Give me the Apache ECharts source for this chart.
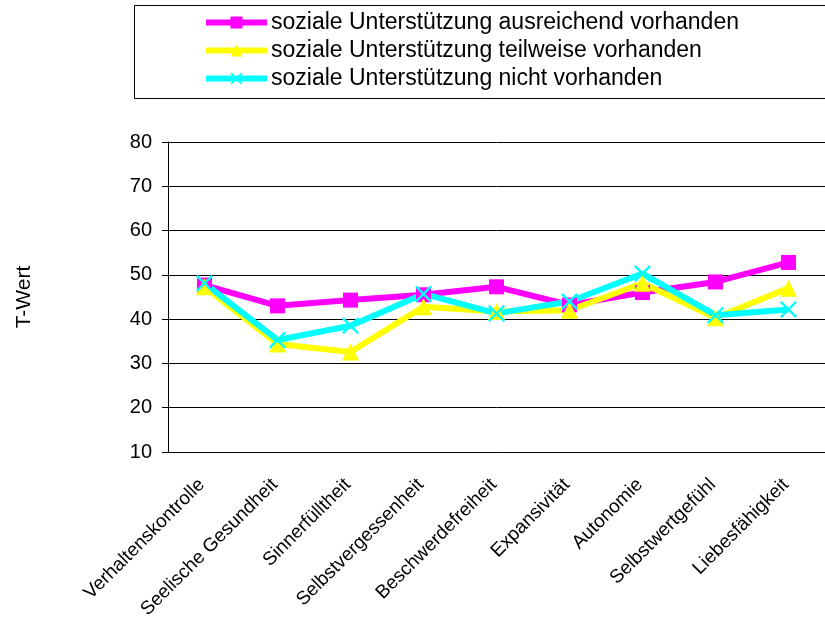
<!DOCTYPE html>
<html>
<head>
<meta charset="utf-8">
<script src="https://cdn.jsdelivr.net/npm/echarts@6/dist/echarts.min.js"></script>
<style>
  html, body { margin: 0; padding: 0; background: #fff; }
  #chart { width: 825px; height: 631px; }
</style>
</head>
<body>
<div id="chart"></div>
<script>
// Kategorien (x-Achse)
const categories = ['Verhaltenskontrolle', 'Seelische Gesundheit', 'Sinnerfülltheit', 'Selbstvergessenheit',
  'Beschwerdefreiheit', 'Expansivität', 'Autonomie', 'Selbstwertgefühl', 'Liebesfähigkeit'];

const seriesNames = ['soziale Unterstützung ausreichend vorhanden', 'soziale Unterstützung teilweise vorhanden',
  'soziale Unterstützung nicht vorhanden'];

// T-Werte je Gruppe
const ausreichend = [47.7, 43.0, 44.3, 45.5, 47.3, 43.2, 46.0, 48.4, 52.8];
const teilweise = [47.3, 34.4, 32.6, 42.8, 41.7, 42.0, 48.1, 40.3, 47.0];
const nicht = [48.1, 35.3, 38.5, 45.7, 41.3, 44.0, 50.3, 40.9, 42.2];

const yTicks = { min: 10, max: 80, interval: 10 };

const font = '"Liberation Sans", Arial, sans-serif';
const xMark = 'path://M0,1L1,0L10,9L9,10Z M9,0L10,1L1,10L0,9Z';

let myChart = echarts.init(document.getElementById('chart'), null, { renderer: 'canvas' });
myChart.setOption({
  animation: false,
  backgroundColor: '#fff',
  textStyle: { fontFamily: font },
  graphic: [
    {
      type: 'rect',
      shape: { x: 134.5, y: 5.5, width: 720, height: 93 },
      style: { fill: 'none', stroke: '#000', lineWidth: 1 },
      z: 0
    }
  ],
  legend: {
    orient: 'vertical',
    left: 203,
    top: 11,
    padding: 0,
    itemWidth: 61,
    itemHeight: 15,
    itemGap: 5,
    lineStyle: { width: 6 },
    textStyle: { fontSize: 23, color: '#000', fontFamily: font, padding: [0, 0, 0, -1] },
    data: seriesNames
  },
  grid: { left: 168, top: 142, width: 666, height: 310, containLabel: false },
  xAxis: {
    type: 'category',
    data: categories,
    boundaryGap: true,
    axisLine: { lineStyle: { color: '#000', width: 1 } },
    axisTick: { show: false },
    axisLabel: { rotate: 45, interval: 0, fontSize: 19, color: '#000', margin: 27,
      padding: [0, 4, 0, 0], fontFamily: font }
  },
  yAxis: {
    type: 'value',
    min: yTicks.min,
    max: yTicks.max,
    interval: yTicks.interval,
    name: 'T-Wert',
    nameLocation: 'middle',
    nameRotate: 90,
    nameGap: 133,
    nameTextStyle: { fontSize: 21, color: '#000', fontFamily: font },
    axisLine: { show: true, lineStyle: { color: '#000', width: 1 } },
    axisTick: { show: true, inside: false, length: 6, lineStyle: { color: '#000' } },
    axisLabel: { fontSize: 20, color: '#000', margin: 16, fontFamily: font },
    splitLine: { lineStyle: { color: '#000', width: 1 } }
  },
  series: [
    {
      name: seriesNames[0],
      type: 'line',
      data: ausreichend,
      symbol: 'rect',
      symbolSize: 15,
      lineStyle: { color: '#ff00ff', width: 6 },
      itemStyle: { color: '#ff00ff' }
    },
    {
      name: seriesNames[1],
      type: 'line',
      data: teilweise,
      symbol: 'triangle',
      symbolSize: 17,
      lineStyle: { color: '#ffff00', width: 6 },
      itemStyle: { color: '#ffff00' }
    },
    {
      name: seriesNames[2],
      type: 'line',
      data: nicht,
      symbol: xMark,
      symbolSize: 17,
      lineStyle: { color: '#00ffff', width: 6 },
      itemStyle: { color: '#00ffff' }
    }
  ]
});
</script>
</body>
</html>
